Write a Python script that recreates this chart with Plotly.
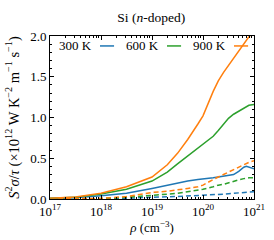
import plotly.graph_objects as go

log_rho = [17, 17.5, 18, 18.5, 19, 19.3, 19.5, 19.7, 19.9, 20.0, 20.2, 20.3, 20.4, 20.5, 20.6, 20.7, 20.8, 20.85, 20.9, 21.0]
rho = [10 ** v for v in log_rho]

pf_900_solid = [0.01, 0.025, 0.07, 0.15, 0.27, 0.42, 0.56, 0.73, 0.92, 1.02, 1.32, 1.45, 1.55, 1.64, 1.73, 1.81, 1.91, 1.95, 1.99, 2.05]
pf_600_solid = [0.01, 0.02, 0.06, 0.12, 0.22, 0.33, 0.43, 0.53, 0.62, 0.67, 0.77, 0.84, 0.92, 0.99, 1.04, 1.08, 1.12, 1.14, 1.15, 1.16]
pf_300_solid = [0.005, 0.015, 0.04, 0.07, 0.13, 0.17, 0.20, 0.22, 0.24, 0.245, 0.26, 0.27, 0.28, 0.29, 0.30, 0.34, 0.39, 0.40, 0.39, 0.37]
pf_900_dash = [0.0, 0.002, 0.008, 0.03, 0.08, 0.095, 0.11, 0.13, 0.15, 0.17, 0.24, 0.27, 0.30, 0.33, 0.36, 0.39, 0.42, 0.44, 0.45, 0.47]
pf_600_dash = [0.0, 0.001, 0.005, 0.02, 0.05, 0.06, 0.07, 0.09, 0.11, 0.12, 0.15, 0.17, 0.18, 0.20, 0.22, 0.235, 0.25, 0.255, 0.26, 0.26]
pf_300_dash = [0.0, 0.0, 0.003, 0.01, 0.025, 0.028, 0.03, 0.035, 0.04, 0.043, 0.05, 0.055, 0.06, 0.065, 0.068, 0.072, 0.075, 0.08, 0.085, 0.09]

labels = ["300 K", "600 K", "900 K"]
colors = ["#1f77b4", "#2ca02c", "#ff7f0e"]
solid = [pf_300_solid, pf_600_solid, pf_900_solid]
dashed = [pf_300_dash, pf_600_dash, pf_900_dash]

x_tickvals = [1e17, 1e18, 1e19, 1e20, 1e21]
x_ticktext = ["10<sup>17</sup>", "10<sup>18</sup>", "10<sup>19</sup>", "10<sup>20</sup>", "10<sup>21</sup>"]
y_tickvals = [0.0, 0.5, 1.0, 1.5, 2.0]
y_ticktext = ["0.0", "0.5", "1.0", "1.5", "2.0"]

FONT = "Liberation Serif, DejaVu Serif, serif"
fig = go.Figure()
for lab, col, ys in zip(labels, colors, solid):
    fig.add_trace(go.Scatter(x=rho, y=ys, mode="lines", name=lab, showlegend=False,
                             line=dict(color=col, width=1.5)))
for lab, col, ys in zip(labels, colors, dashed):
    fig.add_trace(go.Scatter(x=rho, y=ys, mode="lines", name=lab, showlegend=False,
                             line=dict(color=col, width=1.5, dash="5px,3px")))

# legend (text first, then line sample), drawn inside the axes top-left
leg_y = 0.939
for i, (lab, col) in enumerate(zip(labels, colors)):
    x0 = 0.039 + i * 0.3285
    fig.add_annotation(text=lab, xref="paper", yref="paper", x=x0, y=leg_y,
                       xanchor="left", yanchor="middle", showarrow=False, borderpad=0,
                       font=dict(family=FONT, size=13, color="black"))
    fig.add_shape(type="line", xref="paper", yref="paper",
                  x0=x0 + 0.206, x1=x0 + 0.275, y0=leg_y, y1=leg_y,
                  line=dict(color=col, width=1.5))

axis_common = dict(showline=True, linecolor="black", linewidth=1, mirror="ticks",
                   ticks="inside", ticklen=4, tickcolor="black", showgrid=False,
                   zeroline=False, automargin=False,
                   tickfont=dict(family=FONT, size=13, color="black"))

fig.update_xaxes(type="log", range=[17, 21], tickmode="array", tickvals=x_tickvals, ticktext=x_ticktext,
                 minor=dict(ticks="inside", ticklen=2, tickcolor="black", dtick="D1", showgrid=False),
                 title=dict(text="<i>ρ</i> (cm<sup>−3</sup>)", font=dict(family=FONT, size=13, color="black"), standoff=3),
                 **axis_common)
fig.update_yaxes(range=[0, 2.0], tickmode="array", tickvals=y_tickvals, ticktext=y_ticktext,
                 minor=dict(ticks="inside", ticklen=2, tickcolor="black", dtick=0.1, showgrid=False),
                 title=dict(text="<i>S</i><sup>2</sup><i>σ</i>/<i>τ</i> (×10<sup>12</sup> W K<sup>−2</sup> m<sup>−1</sup> s<sup>−1</sup>)",
                            font=dict(family=FONT, size=14.5, color="black"), standoff=7),
                 **axis_common)

fig.update_layout(
    width=274, height=240,
    margin=dict(l=50, r=20, t=36, b=41),
    paper_bgcolor="white", plot_bgcolor="white",
    title=dict(text="Si (<i>n</i>-doped)", x=0.552, xanchor="center", y=0.93, yanchor="middle",
               font=dict(family=FONT, size=13.5, color="black")),
    showlegend=False,
)
fig.write_html("out.html", config={"displayModeBar": False},
               post_script="document.body.style.margin='0px';")
